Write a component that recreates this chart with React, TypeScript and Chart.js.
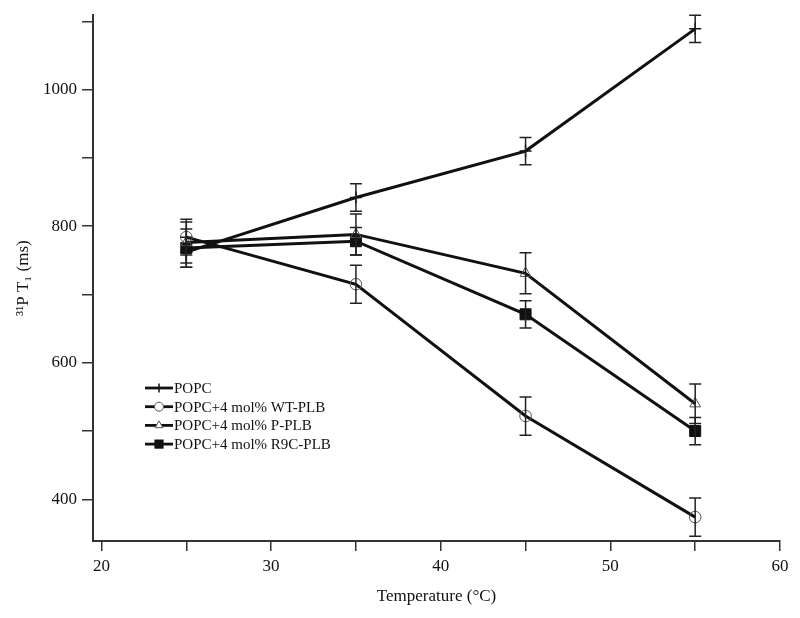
import React, { useEffect, useRef } from 'react';
import { Chart, registerables } from 'chart.js';

Chart.register(...registerables);

// ---- data ----
const temperatures = [25, 35, 45, 55];
const popc = [762, 842, 910, 1089];
const popcErr = [22, 20, 20, 20];
const wtPlb = [784, 715, 522, 374];
const wtPlbErr = [26, 28, 28, 28];
const pPlb = [776, 788, 731, 540];
const pPlbErr = [30, 30, 30, 29];
const r9cPlb = [768, 778, 671, 500];
const r9cPlbErr = [28, 20, 20, 20];

const seriesNames = ['POPC', 'POPC+4 mol% WT-PLB', 'POPC+4 mol% P-PLB', 'POPC+4 mol% R9C-PLB'];
const xTicks = [20, 25, 30, 35, 40, 45, 50, 55, 60];
const xLabelTicks = [20, 30, 40, 50, 60];
const yTicks = [400, 500, 600, 700, 800, 900, 1000, 1100];
const yLabelTicks = [400, 600, 800, 1000];

const FONT = '"Liberation Serif", "Times New Roman", serif';
const INK = '#111';

const toPoints = (vals: number[]) => temperatures.map((t, i) => ({ x: t, y: vals[i] }));

function drawMarker(ctx: CanvasRenderingContext2D, style: string, x: number, y: number, r: number) {
  ctx.save();
  ctx.beginPath();
  if (style === 'cross') {
    ctx.strokeStyle = INK;
    ctx.lineWidth = 1.5;
    ctx.moveTo(x, y - r);
    ctx.lineTo(x, y + r);
    ctx.moveTo(x - r, y);
    ctx.lineTo(x + r, y);
    ctx.stroke();
  } else if (style === 'circle') {
    ctx.strokeStyle = '#555';
    ctx.lineWidth = 1;
    ctx.fillStyle = '#fff';
    ctx.arc(x, y, r, 0, Math.PI * 2);
    ctx.fill();
    ctx.stroke();
  } else if (style === 'triangle') {
    ctx.strokeStyle = '#555';
    ctx.lineWidth = 1;
    ctx.fillStyle = '#fff';
    ctx.moveTo(x, y - r);
    ctx.lineTo(x + r * 0.866, y + r * 0.5);
    ctx.lineTo(x - r * 0.866, y + r * 0.5);
    ctx.closePath();
    ctx.fill();
    ctx.stroke();
  } else {
    ctx.fillStyle = INK;
    const s = r * 0.7071;
    ctx.rect(x - s, y - s, 2 * s, 2 * s);
    ctx.fill();
  }
  ctx.restore();
}

const errorBarPlugin = {
  id: 'errorBars',
  afterDatasetsDraw(chart: any) {
    const ctx = chart.ctx as CanvasRenderingContext2D;
    const xs = chart.scales.x;
    const ys = chart.scales.y;
    ctx.save();
    ctx.strokeStyle = '#222';
    ctx.lineWidth = 1.5;
    chart.data.datasets.forEach((ds: any) => {
      const errs: number[] = ds.errors || [];
      ds.data.forEach((p: any, i: number) => {
        const e = errs[i];
        if (!e) return;
        const px = xs.getPixelForValue(p.x);
        const top = ys.getPixelForValue(p.y + e);
        const bot = ys.getPixelForValue(p.y - e);
        const cap = 6;
        ctx.beginPath();
        ctx.moveTo(px, top);
        ctx.lineTo(px, bot);
        ctx.moveTo(px - cap, top);
        ctx.lineTo(px + cap, top);
        ctx.moveTo(px - cap, bot);
        ctx.lineTo(px + cap, bot);
        ctx.stroke();
      });
    });
    ctx.restore();
  },
};

const legendPlugin = {
  id: 'insideLegend',
  afterDraw(chart: any) {
    const ctx = chart.ctx as CanvasRenderingContext2D;
    const x0 = 145;
    const x1 = 173;
    const top = 388;
    const step = 18.7;
    ctx.save();
    ctx.font = `15px ${FONT}`;
    ctx.textBaseline = 'middle';
    ctx.textAlign = 'left';
    chart.data.datasets.forEach((ds: any, i: number) => {
      const y = top + i * step;
      ctx.beginPath();
      ctx.strokeStyle = INK;
      ctx.lineWidth = 2.8;
      ctx.moveTo(x0, y);
      ctx.lineTo(x1, y);
      ctx.stroke();
      drawMarker(ctx, ds.pointStyle, (x0 + x1) / 2, y, ds.pointStyle === 'rect' ? 6.5 : 4.5);
      ctx.fillStyle = INK;
      ctx.fillText(seriesNames[i], x1 + 1, y + 1);
    });
    ctx.restore();
  },
};

export default function App() {
  const ref = useRef<HTMLCanvasElement | null>(null);

  useEffect(() => {
    if (!ref.current) return;
    const mk = (label: string, vals: number[], errs: number[], style: string, r: number, border: string, bw: number) => ({
      label,
      data: toPoints(vals),
      errors: errs,
      borderColor: INK,
      borderWidth: 3,
      pointStyle: style,
      pointRadius: r,
      pointBorderColor: border,
      pointBackgroundColor: style === 'rect' ? INK : 'rgba(0,0,0,0)',
      pointBorderWidth: bw,
      tension: 0,
      fill: false,
    });
    const chart = new Chart(ref.current, {
      type: 'line',
      data: {
        datasets: [
          mk(seriesNames[0], popc, popcErr, 'cross', 6, INK, 1.5),
          mk(seriesNames[1], wtPlb, wtPlbErr, 'circle', 5.8, '#555', 1),
          mk(seriesNames[2], pPlb, pPlbErr, 'triangle', 6.2, '#555', 1),
          mk(seriesNames[3], r9cPlb, r9cPlbErr, 'rect', 7.8, INK, 1),
        ] as any,
      },
      options: {
        animation: false,
        responsive: false,
        layout: { padding: { top: 13, right: 20, left: 0, bottom: 0 } },
        plugins: { legend: { display: false }, tooltip: { enabled: false } },
        scales: {
          x: {
            type: 'linear',
            min: 19.5,
            max: 60,
            afterBuildTicks: (s: any) => {
              s.ticks = xTicks.map((v) => ({ value: v }));
            },
            afterFit: (s: any) => {
              s.height = 77;
            },
            ticks: {
              autoSkip: false,
              maxRotation: 0,
              padding: 5,
              color: INK,
              font: { family: FONT, size: 17 },
              callback: (v: any) => (xLabelTicks.includes(Number(v)) ? String(v) : ''),
            },
            grid: { drawOnChartArea: false, drawTicks: true, tickLength: 10, color: '#333', lineWidth: 1.5 },
            border: { display: true, color: '#333', width: 2 },
            title: {
              display: true,
              text: 'Temperature (°C)',
              color: INK,
              font: { family: FONT, size: 17 },
              padding: { top: 0, bottom: 11 },
            },
          },
          y: {
            type: 'linear',
            min: 339,
            max: 1109,
            afterBuildTicks: (s: any) => {
              s.ticks = yTicks.map((v) => ({ value: v }));
            },
            afterFit: (s: any) => {
              s.width = 93;
            },
            ticks: {
              autoSkip: false,
              padding: 5,
              color: INK,
              font: { family: FONT, size: 17 },
              callback: (v: any) => (yLabelTicks.includes(Number(v)) ? String(v) : ''),
            },
            grid: { drawOnChartArea: false, drawTicks: true, tickLength: 11, color: '#333', lineWidth: 1.5 },
            border: { display: true, color: '#333', width: 2 },
            title: {
              display: true,
              text: '³¹P T₁ (ms)',
              color: INK,
              font: { family: FONT, size: 17 },
              padding: { top: 13, bottom: 0 },
            },
          },
        },
      } as any,
      plugins: [errorBarPlugin, legendPlugin],
    });
    return () => chart.destroy();
  }, []);

  return (
    <div style={{ position: 'fixed', left: 0, top: 0, width: 800, height: 618, background: '#fff' }}>
      <canvas ref={ref} width={800} height={618} style={{ display: 'block', width: 800, height: 618 }} />
    </div>
  );
}
